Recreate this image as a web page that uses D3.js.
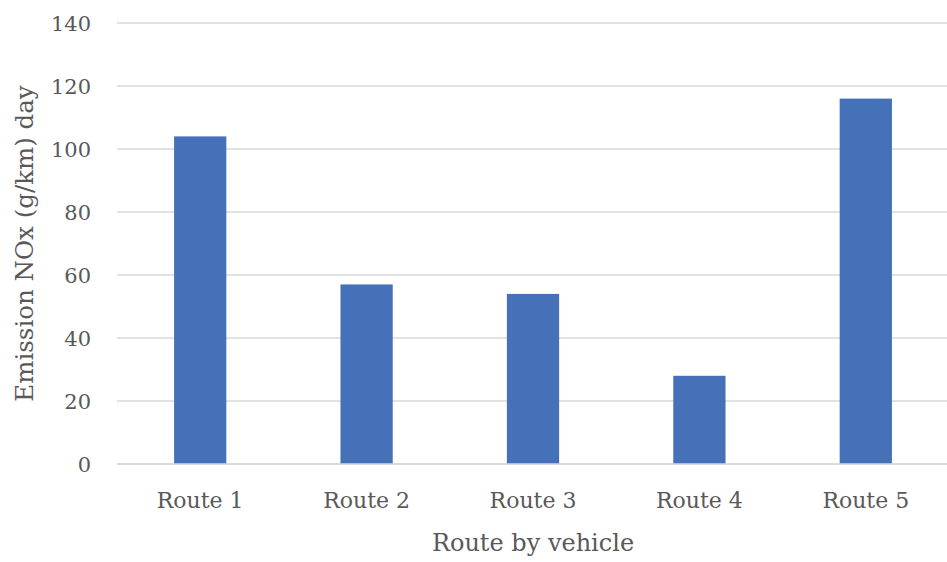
<!DOCTYPE html>
<html>
<head>
<meta charset="utf-8">
<script src="https://cdn.jsdelivr.net/npm/d3@7"></script>
<style>
  html, body { margin: 0; padding: 0; background: #fff; }
  svg text { font-family: "DejaVu Serif", serif; fill: #595959; }
</style>
</head>
<body>
<svg id="chart" width="947" height="562"></svg>
<script>
// NOx emission per route
const routes = ["Route 1", "Route 2", "Route 3", "Route 4", "Route 5"];
const emissions = [104, 57, 54, 28, 116];
const yTicks = [0, 20, 40, 60, 80, 100, 120, 140];

const svg = d3.select("#chart");
const margin = { top: 23, right: -2, bottom: 98, left: 117 };
const W = 947, H = 562;

const x = d3.scaleBand()
  .domain(routes)
  .range([margin.left, W - margin.right])
  .paddingInner(0.686)
  .paddingOuter(0.343);

const y = d3.scaleLinear()
  .domain([0, 140])
  .range([H - margin.bottom, margin.top]);

// horizontal gridlines
svg.append("g")
  .selectAll("line")
  .data(yTicks)
  .join("line")
  .attr("x1", margin.left)
  .attr("x2", W - margin.right)
  .attr("y1", d => y(d))
  .attr("y2", d => y(d))
  .attr("stroke", "#d9d9d9")
  .attr("stroke-width", 1.5);

// y tick labels
svg.append("g")
  .selectAll("text")
  .data(yTicks)
  .join("text")
  .attr("x", 91)
  .attr("y", d => y(d))
  .attr("dy", "0.36em")
  .attr("text-anchor", "end")
  .attr("font-size", 21)
  .text(d => d);

// bars
svg.append("g")
  .selectAll("rect")
  .data(emissions)
  .join("rect")
  .attr("x", (d, i) => x(routes[i]))
  .attr("width", x.bandwidth())
  .attr("y", d => y(d))
  .attr("height", d => y(0) - y(d))
  .attr("fill", "#4571b8");

// baseline drawn over bar bottoms
svg.append("line")
  .attr("x1", margin.left).attr("x2", W - margin.right)
  .attr("y1", y(0)).attr("y2", y(0))
  .attr("stroke", "#d9d9d9").attr("stroke-width", 1.5);

// category labels
svg.append("g")
  .selectAll("text")
  .data(routes)
  .join("text")
  .attr("x", d => x(d) + x.bandwidth() / 2)
  .attr("y", 508)
  .attr("text-anchor", "middle")
  .attr("font-size", 22)
  .text(d => d);

// axis titles
svg.append("text")
  .attr("x", (margin.left + W - margin.right) / 2)
  .attr("y", 551)
  .attr("text-anchor", "middle")
  .attr("font-size", 24)
  .text("Route by vehicle");

svg.append("text")
  .attr("transform", `translate(33, ${(y(0) + y(140)) / 2}) rotate(-90)`)
  .attr("text-anchor", "middle")
  .attr("font-size", 24.5)
  .text("Emission NOx (g/km) day");
</script>
</body>
</html>
